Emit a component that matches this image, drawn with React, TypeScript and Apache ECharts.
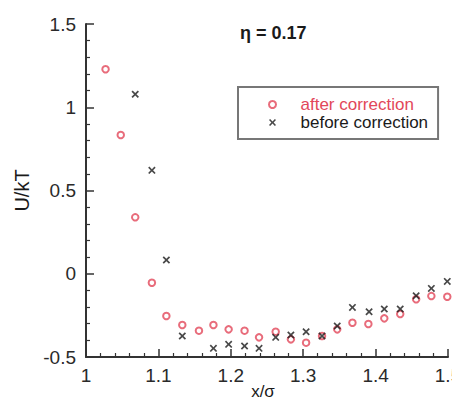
import React, { useEffect, useRef } from "react";
import * as echarts from "echarts";

// Interaction energy profile U/kT vs. x/σ at packing fraction η = 0.17
const afterX = [1.027, 1.048, 1.068, 1.091, 1.111, 1.133, 1.156, 1.176, 1.197, 1.219, 1.239, 1.262, 1.283, 1.304, 1.326, 1.347, 1.368, 1.39, 1.412, 1.434, 1.456, 1.477, 1.499];
const afterY = [1.228, 0.833, 0.339, -0.054, -0.254, -0.308, -0.342, -0.308, -0.334, -0.342, -0.382, -0.348, -0.394, -0.414, -0.374, -0.334, -0.294, -0.302, -0.268, -0.242, -0.153, -0.134, -0.138];

const beforeX = [1.068, 1.091, 1.111, 1.133, 1.176, 1.197, 1.219, 1.239, 1.262, 1.283, 1.304, 1.326, 1.347, 1.368, 1.391, 1.412, 1.434, 1.456, 1.477, 1.499];
const beforeY = [1.078, 0.621, 0.083, -0.374, -0.448, -0.424, -0.434, -0.448, -0.382, -0.368, -0.348, -0.374, -0.314, -0.202, -0.228, -0.212, -0.212, -0.132, -0.088, -0.046];

const seriesNames = ["after correction", "before correction"];
const titleText = "η = 0.17";
const xAxisTitle = "x/σ";
const yAxisTitle = "U/kT";

const RED = "#e2475a";
const INK = "#1a1a1a";
const FONT = "Liberation Sans, Arial, sans-serif";
// bold "×" marker
const CROSS =
  "path://M0,1.6L1.6,0L5,3.4L8.4,0L10,1.6L6.6,5L10,8.4L8.4,10L5,6.6L1.6,10L0,8.4L3.4,5Z";

const zip = (xs: number[], ys: number[]) => xs.map((x, i) => [x, ys[i]]);

export default function App() {
  const ref = useRef<HTMLDivElement>(null);

  useEffect(() => {
    if (!ref.current) return;
    const chart = echarts.init(ref.current, undefined, { renderer: "svg" });
    const axisLabel = { color: "#2a2a2a", fontSize: 19, fontFamily: FONT };
    chart.setOption({
      animation: false,
      backgroundColor: "#fff",
      title: {
        text: titleText,
        left: 240,
        top: 24,
        padding: 0,
        textStyle: { fontSize: 18, fontWeight: "bold", color: INK, fontFamily: FONT },
      },
      legend: {
        orient: "vertical",
        left: 238,
        top: 87,
        padding: [9, 10, 8, 30],
        itemWidth: 46,
        itemHeight: 7,
        itemGap: 1,
        borderColor: "#777",
        borderWidth: 2,
        borderRadius: 0,
        textStyle: { fontSize: 17, fontFamily: FONT, color: INK },
        data: [
          { name: seriesNames[0], textStyle: { color: RED } },
          { name: seriesNames[1], textStyle: { color: INK } },
        ],
      },
      // x-axis title sits just under the tick labels, centred on the plot
      graphic: [
        {
          type: "text",
          x: 263,
          y: 391,
          silent: true,
          style: {
            text: xAxisTitle,
            fontSize: 17,
            fontFamily: FONT,
            fill: INK,
            align: "center",
            verticalAlign: "middle",
          },
        },
      ],
      grid: { left: 86, right: 12, top: 24, bottom: 52, outerBoundsMode: "none", containLabel: false },
      xAxis: {
        type: "value",
        min: 1,
        max: 1.5,
        interval: 0.1,
        axisLine: { show: true, onZero: false, lineStyle: { color: "#333", width: 2 } },
        axisTick: { show: true, inside: true, length: 8, lineStyle: { color: "#333", width: 1.5 } },
        minorTick: { show: true, splitNumber: 5, length: 4, lineStyle: { color: "#333", width: 1.2 } },
        splitLine: { show: false },
        axisLabel: { ...axisLabel, margin: 9 },
      },
      yAxis: {
        type: "value",
        min: -0.5,
        max: 1.5,
        interval: 0.5,
        name: yAxisTitle,
        nameLocation: "middle",
        nameGap: 48,
        nameTextStyle: { fontSize: 20, color: INK, fontFamily: FONT },
        axisLine: { show: true, onZero: false, lineStyle: { color: "#333", width: 2 } },
        axisTick: { show: true, inside: true, length: 8, lineStyle: { color: "#333", width: 1.5 } },
        minorTick: { show: true, splitNumber: 5, length: 4, lineStyle: { color: "#333", width: 1.2 } },
        splitLine: { show: false },
        axisLabel: { ...axisLabel, margin: 10 },
      },
      series: [
        {
          name: seriesNames[0],
          type: "scatter",
          data: zip(afterX, afterY),
          symbol: "emptyCircle",
          symbolSize: 6.5,
          clip: false,
          itemStyle: { color: RED, borderColor: RED, borderWidth: 1.3 },
        },
        {
          name: seriesNames[1],
          type: "scatter",
          data: zip(beforeX, beforeY),
          symbol: CROSS,
          symbolSize: 7.5,
          clip: false,
          itemStyle: { color: INK },
        },
      ],
    });
    return () => chart.dispose();
  }, []);

  return <div ref={ref} style={{ width: 460, height: 409, margin: -8 }} />;
}
